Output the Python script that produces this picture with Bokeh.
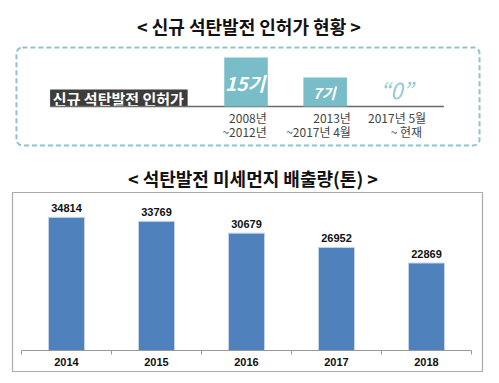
from bokeh.plotting import figure
from bokeh.models import Range1d, BoxAnnotation, LabelSet, ColumnDataSource
from bokeh.layouts import column
from bokeh.core.properties import value
from bokeh.embed import file_html
from bokeh.resources import INLINE

# ---------------- data ----------------
top_title = "< 신규 석탄발전 인허가 현황 >"
permit_caption = "신규 석탄발전 인허가"
permit_counts = [15, 7, 0]
permit_labels = ["15기", "7기", "“0”"]
period_line1 = ["2008년", "2013년", "2017년 5월"]
period_line2 = ["~2012년", "~2017년 4월", "~ 현재"]

bottom_title = "< 석탄발전 미세먼지 배출량(톤) >"
years = ["2014", "2015", "2016", "2017", "2018"]
emissions = [34814, 33769, 30679, 26952, 22869]

KR = "Noto Sans CJK KR"
TEAL = "#79bdc8"

# ---------------- top infographic (pixel coordinates) ----------------
top = figure(width=485, height=192, x_range=Range1d(10, 485), y_range=Range1d(192, 0),
             x_axis_type=None, y_axis_type=None, toolbar_location=None, title=None,
             output_backend="svg", min_border=0,
             min_border_left=0, min_border_right=0, min_border_top=0, min_border_bottom=0)
top.outline_line_color = None
top.grid.visible = False

top.add_layout(BoxAnnotation(left=14, right=482, top=47, bottom=145,
                             fill_color=None, fill_alpha=0, line_color="#8fc3cb", line_alpha=1,
                             line_width=2, line_dash="5 3", border_radius=6))

top.text(x=[249], y=[25], text=[top_title], text_font=value(KR), text_font_style="bold",
         text_font_size="18px", text_align="center", text_baseline="middle", text_color="#111111")

# caption block
top.quad(left=[48], right=[187], top=[89], bottom=[106], fill_color="#3d3d3d", line_color=None)
top.text(x=[117], y=[97.5], text=[permit_caption], text_font=value(KR), text_font_style="bold",
         text_font_size="15px", text_align="center", text_baseline="middle", text_color="white")

baseline_y = 106
top.segment(x0=[48], y0=[baseline_y], x1=[446], y1=[baseline_y], line_color="#6a6a6a", line_width=1.5)

col_x = [246, 326, 398]
bar_half = 22
pad, k = 11.5, 2.5   # visual scale of the infographic bars
bx, btop = [], []
for x, c in zip(col_x, permit_counts):
    if c > 0:
        bx.append(x)
        btop.append(baseline_y - (pad + k * c))
top.vbar(x=bx, top=btop, bottom=baseline_y, width=2 * bar_half, fill_color=TEAL, line_color=None)

top.text(x=[245], y=[82], text=[permit_labels[0]], text_font=value(KR), text_font_style="bold italic",
         text_font_size="19px", text_align="center", text_baseline="middle", text_color="white")
top.text(x=[325], y=[92], text=[permit_labels[1]], text_font=value(KR), text_font_style="bold italic",
         text_font_size="15px", text_align="center", text_baseline="middle", text_color="white")
top.text(x=[398], y=[88], text=[permit_labels[2]], text_font=value(KR), text_font_style="italic",
         text_font_size="22px", text_align="center", text_baseline="middle", text_color="#93c9d1")

top.text(x=[267, 352, 428], y=[117] * 3, text=period_line1, text_font=value(KR),
         text_font_size="12px", text_align="right", text_baseline="middle", text_color="#444444")
top.text(x=[267, 352, 424], y=[131] * 3, text=period_line2, text_font=value(KR),
         text_font_size="12px", text_align="right", text_baseline="middle", text_color="#444444")

top.text(x=[253], y=[177], text=[bottom_title], text_font=value(KR), text_font_style="bold",
         text_font_size="18px", text_align="center", text_baseline="middle", text_color="#111111")

# ---------------- bottom bar chart (frame = bordered box) ----------------
n = len(years)
cat_px = 90.0          # pixels per category
ymax_px = 153.0        # pixels for 40000
px_y = 40000 / ymax_px
xs = [i + 0.5 for i in range(n)]
src = ColumnDataSource(dict(x=xs, top=emissions, lab=[str(v) for v in emissions],
                            yr=years, zero=[0] * n))

bot = figure(width=485, height=183,
             x_range=Range1d(-9 / cat_px, n + 11 / cat_px),
             y_range=Range1d(-21 * px_y, 158 * px_y),
             x_axis_type=None, y_axis_type=None, toolbar_location=None, title=None,
             output_backend="svg",
             min_border_left=12, min_border_right=3, min_border_top=0, min_border_bottom=4)
bot.outline_line_color = "#aaaaaa"
bot.outline_line_width = 1.2
bot.grid.visible = False

bot.vbar(x="x", top="top", width=0.4, source=src, fill_color="#4f81bd", line_color="#c5d3e8", line_width=1)
bot.add_layout(LabelSet(x="x", y="top", text="lab", source=src, text_align="center",
                        text_baseline="alphabetic", y_offset=5, text_font=value("Liberation Sans"),
                        text_font_style="bold", text_font_size="11px", text_color="#111111"))

# category axis: line, boundary ticks, year labels
bounds = list(range(n + 1))
bot.segment(x0=[0], y0=[0], x1=[n], y1=[0], line_color="#999999", line_width=1)
bot.segment(x0=bounds, y0=[0] * (n + 1), x1=bounds, y1=[-4 * px_y] * (n + 1),
            line_color="#999999", line_width=1)
bot.add_layout(LabelSet(x="x", y="zero", text="yr", source=src, text_align="center",
                        text_baseline="middle", y_offset=-11, text_font=value("Liberation Sans"),
                        text_font_style="bold", text_font_size="11px", text_color="#111111"))

layout = column(top, bot, spacing=0)
open("out.html", "w").write(file_html(layout, INLINE))
